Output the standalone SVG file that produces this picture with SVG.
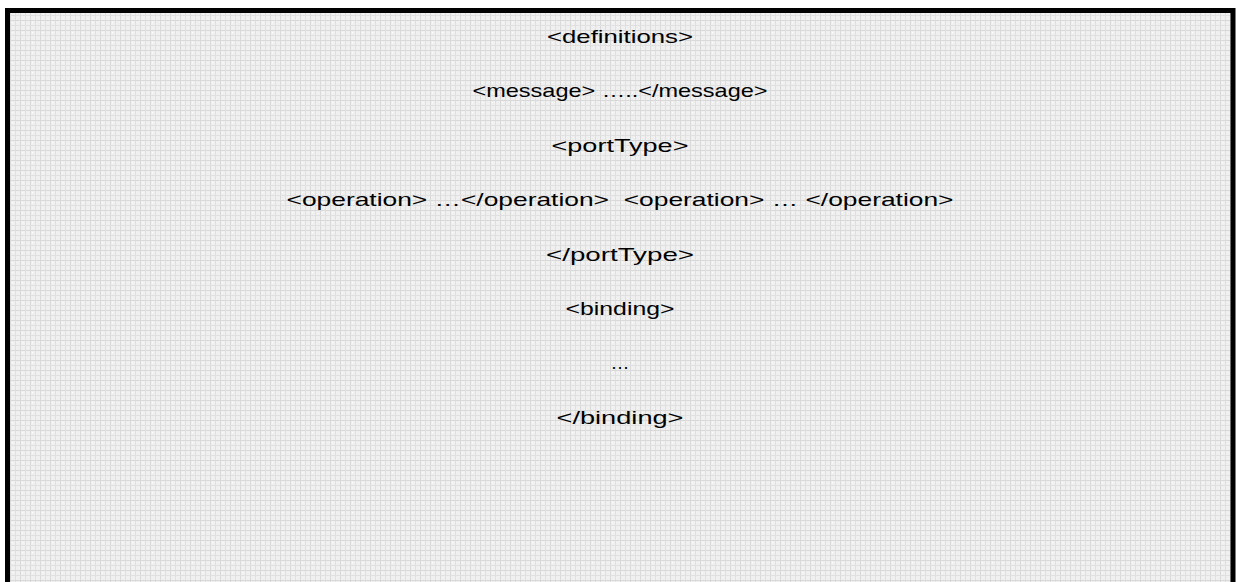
<svg xmlns="http://www.w3.org/2000/svg" width="1239" height="582" viewBox="0 0 1239 582">
  <style>
    .ln { font-family: "Liberation Sans", Arial, sans-serif; font-size: 19px; fill: #000; text-anchor: middle; white-space: pre; }
  </style>
  <defs>
    <!-- light gray woven fill used inside the frame -->
    <pattern id="weave" width="10" height="10" patternUnits="userSpaceOnUse">
      <rect width="10" height="10" fill="#f0f0f0"/>
      <rect x="0" y="0" width="1" height="10" fill="#d9d9d9"/>
      <rect x="5" y="0" width="1" height="10" fill="#e0e0e0"/>
      <rect x="0" y="0" width="10" height="1" fill="#d9d9d9"/>
      <rect x="0" y="5" width="10" height="1" fill="#e0e0e0"/>
      <rect x="2" y="2" width="1" height="1" fill="#ffffff"/>
    </pattern>
  </defs>

  <rect width="1239" height="582" fill="#ffffff"/>

  <!-- framed panel, open at the bottom edge -->
  <g id="panel">
    <rect x="7.5" y="10.5" width="1225.5" height="600" fill="url(#weave)" stroke="#000" stroke-width="5"/>
  </g>

  <!-- WSDL element outline -->
  <g id="lines">
    <text class="ln" x="620" y="43" textLength="146" lengthAdjust="spacingAndGlyphs">&lt;definitions&gt;</text>
    <text class="ln" x="620" y="97" textLength="295" lengthAdjust="spacingAndGlyphs">&lt;message&gt; …..&lt;/message&gt;</text>
    <text class="ln" x="620" y="152" textLength="137" lengthAdjust="spacingAndGlyphs">&lt;portType&gt;</text>
    <text class="ln" x="620" y="206" textLength="667" lengthAdjust="spacingAndGlyphs">&lt;operation&gt; …&lt;/operation&gt;  &lt;operation&gt; … &lt;/operation&gt;</text>
    <text class="ln" x="620" y="261" textLength="148" lengthAdjust="spacingAndGlyphs">&lt;/portType&gt;</text>
    <text class="ln" x="620" y="315" textLength="109" lengthAdjust="spacingAndGlyphs">&lt;binding&gt;</text>
    <text class="ln" x="620" y="369">…</text>
    <text class="ln" x="620" y="424" textLength="127" lengthAdjust="spacingAndGlyphs">&lt;/binding&gt;</text>
  </g>
</svg>
